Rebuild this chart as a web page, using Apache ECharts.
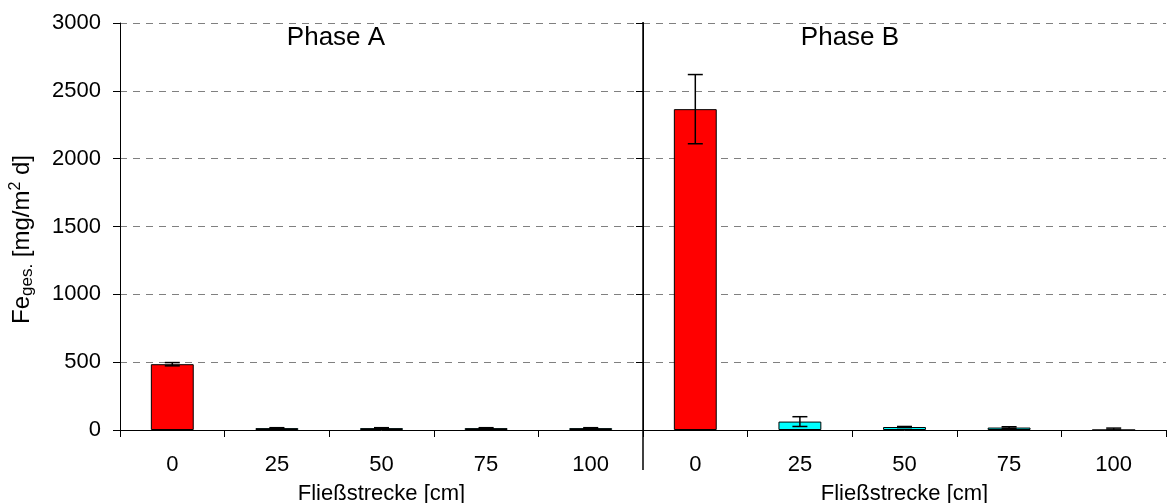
<!DOCTYPE html>
<html>
<head>
<meta charset="utf-8">
<script src="https://cdn.jsdelivr.net/npm/echarts@6/dist/echarts.min.js"></script>
<style>
html,body{margin:0;padding:0;background:#fff;}
#chart{width:1168px;height:503px;}
</style>
</head>
<body>
<div id="chart"></div>
<script>
// ---- data ----
const categories = ['0', '25', '50', '75', '100'];
const phaseAValues = [485, 14, 14, 14, 14];
const phaseAErrors = [12, 3, 3, 3, 3];
const phaseBValues = [2365, 62, 22, 18, 0];
const phaseBErrors = [255, 36, 4, 6, 14];
const barColors = ['#FF0000', '#00FFFF', '#00FFFF', '#00FFFF', '#00FFFF'];
const yTicks = { min: 0, max: 3000, interval: 500 };
const phaseTitles = ['Phase A', 'Phase B'];
const xName = 'Fließstrecke [cm]';

const FONT = "'Liberation Sans', Arial, sans-serif";

function barData(vals) {
  return vals.map((v, i) => ({ value: v, itemStyle: { color: barColors[i] } }));
}
function errData(vals, errs) {
  return vals.map((v, i) => [i, v - errs[i], v + errs[i]]);
}
function renderErr(params, api) {
  const x = api.value(0);
  const lo = Math.max(0, api.value(1));
  const hi = api.value(2);
  const pLo = api.coord([x, lo]);
  const pHi = api.coord([x, hi]);
  const hw = 7.5;
  const st = { stroke: '#000', lineWidth: 1.5 };
  return {
    type: 'group',
    children: [
      { type: 'line', shape: { x1: pHi[0], y1: pHi[1], x2: pLo[0], y2: pLo[1] }, style: st },
      { type: 'line', shape: { x1: pHi[0] - hw, y1: pHi[1], x2: pHi[0] + hw, y2: pHi[1] }, style: st },
      { type: 'line', shape: { x1: pLo[0] - hw, y1: pLo[1], x2: pLo[0] + hw, y2: pLo[1] }, style: st }
    ]
  };
}

const xAxisCommon = {
  type: 'category',
  data: categories,
  boundaryGap: true,
  axisLine: { show: true, lineStyle: { color: '#000', width: 1 } },
  axisTick: { show: true, length: 7, lineStyle: { color: '#000' } },
  axisLabel: { color: '#000', fontSize: 22, fontFamily: FONT, margin: 24 },
  name: xName,
  nameLocation: 'middle',
  nameGap: 53,
  nameTextStyle: { color: '#000', fontSize: 22, fontFamily: FONT },
  splitLine: { show: false }
};

const splitDashed = { show: true, lineStyle: { color: '#808080', type: [7, 6], width: 1 } };

const chart = echarts.init(document.getElementById('chart'), null, { renderer: 'canvas' });
chart.setOption({
  animation: false,
  backgroundColor: '#fff',
  textStyle: { fontFamily: FONT },
  grid: [
    { left: 120, top: 23, width: 523, bottom: 73, containLabel: false, outerBoundsMode: 'none' },
    { left: 643, top: 23, width: 523, bottom: 73, containLabel: false, outerBoundsMode: 'none' }
  ],
  xAxis: [
    Object.assign({ gridIndex: 0 }, xAxisCommon),
    Object.assign({ gridIndex: 1 }, xAxisCommon)
  ],
  yAxis: [
    {
      type: 'value', gridIndex: 0, min: yTicks.min, max: yTicks.max, interval: yTicks.interval,
      axisLine: { show: true, lineStyle: { color: '#000' } },
      axisTick: { show: true, length: 7, lineStyle: { color: '#000' } },
      axisLabel: { color: '#000', fontSize: 22, fontFamily: FONT, margin: 19, formatter: v => String(v) },
      splitLine: splitDashed,
      name: '{m|Fe}{s|ges.}{m| [mg/m}{p|2}{m| d]}',
      nameLocation: 'middle',
      nameRotate: 90,
      nameGap: 84,
      nameTextStyle: {
        color: '#000', fontFamily: FONT,
        padding: [0, 26, 0, 0],
        rich: {
          m: { fontSize: 24, lineHeight: 28, verticalAlign: 'middle', color: '#000', fontFamily: FONT },
          s: { fontSize: 17, lineHeight: 28, verticalAlign: 'bottom', color: '#000', fontFamily: FONT },
          p: { fontSize: 16, lineHeight: 28, verticalAlign: 'top', color: '#000', fontFamily: FONT }
        }
      }
    },
    {
      type: 'value', gridIndex: 0, min: yTicks.min, max: yTicks.max, interval: yTicks.interval,
      axisLine: { show: true, lineStyle: { color: '#000' } },
      axisTick: { show: true, inside: true, length: 7, lineStyle: { color: '#000' } },
      axisLabel: { show: false },
      splitLine: { show: false }
    },
    {
      type: 'value', gridIndex: 1, min: yTicks.min, max: yTicks.max, interval: yTicks.interval,
      axisLine: { show: false },
      axisTick: { show: false },
      axisLabel: { show: false },
      splitLine: splitDashed
    }
  ],
  series: [
    {
      type: 'bar', xAxisIndex: 0, yAxisIndex: 0, barWidth: '41%',
      data: barData(phaseAValues),
      itemStyle: { borderColor: '#000', borderWidth: 1 }
    },
    {
      type: 'custom', xAxisIndex: 0, yAxisIndex: 0, renderItem: renderErr,
      data: errData(phaseAValues, phaseAErrors), z: 5
    },
    {
      type: 'bar', xAxisIndex: 1, yAxisIndex: 2, barWidth: '41%',
      data: barData(phaseBValues),
      itemStyle: { borderColor: '#000', borderWidth: 1 }
    },
    {
      type: 'custom', xAxisIndex: 1, yAxisIndex: 2, renderItem: renderErr,
      data: errData(phaseBValues, phaseBErrors), z: 5
    }
  ],
  graphic: [
    { type: 'line', shape: { x1: 643, y1: 22, x2: 643, y2: 470 }, style: { stroke: '#000', lineWidth: 1.5 }, z: 10 },
    { type: 'text', x: 336, y: 38, style: { text: phaseTitles[0], fontSize: 26, fontFamily: FONT, fill: '#000', align: 'center', verticalAlign: 'middle' }, z: 10 },
    { type: 'text', x: 850, y: 38, style: { text: phaseTitles[1], fontSize: 26, fontFamily: FONT, fill: '#000', align: 'center', verticalAlign: 'middle' }, z: 10 }
  ]
});
</script>
</body>
</html>
